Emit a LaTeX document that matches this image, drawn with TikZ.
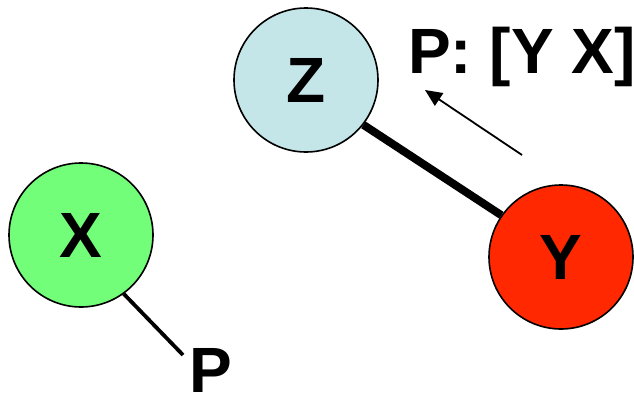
\documentclass[tikz,border=0pt]{standalone}
\usepackage{fontspec}
\setmainfont{Liberation Sans}
\usetikzlibrary{arrows.meta}
\definecolor{xgreen}{RGB}{114,254,120}
\definecolor{zblue}{RGB}{196,230,232}
\definecolor{yred}{RGB}{255,40,0}
\tikzset{
  ball/.style={circle, draw=black, line width=1.6pt, minimum size=144pt, inner sep=0pt,
    font=\bfseries\fontsize{64}{70}\selectfont},
  lbl/.style={inner sep=0pt, font=\bfseries\fontsize{64}{70}\selectfont},
  bond/.style={line width=8pt},
  tail/.style={line width=3.8pt},
  pointer/.style={line width=1.8pt, -{Triangle[length=17pt, width=15pt]}}
}
\begin{document}
\begin{tikzpicture}[x=1pt, y=-1pt]
\useasboundingbox (0,0) rectangle (634,394);
\node[ball, fill=xgreen] (X) at (81,235) {X};
\node[ball, fill=zblue] (Z) at (306,80) {Z};
\node[ball, fill=yred] (Y) at (561,257) {Y};
\draw[bond] (Z.-38) -- (Y.145);
\coordinate (pend) at (183,355);
\draw[tail] (X.-54) -- (pend);
\node[lbl, anchor=base] (P) at (211,392) {P};
\node[lbl, anchor=base west] (PYX) at (408,73) {P: [Y X]};
\coordinate (astart) at (522,155);
\coordinate (atip) at (425,90);
\draw[pointer] (astart) -- (atip);
\end{tikzpicture}
\end{document}
